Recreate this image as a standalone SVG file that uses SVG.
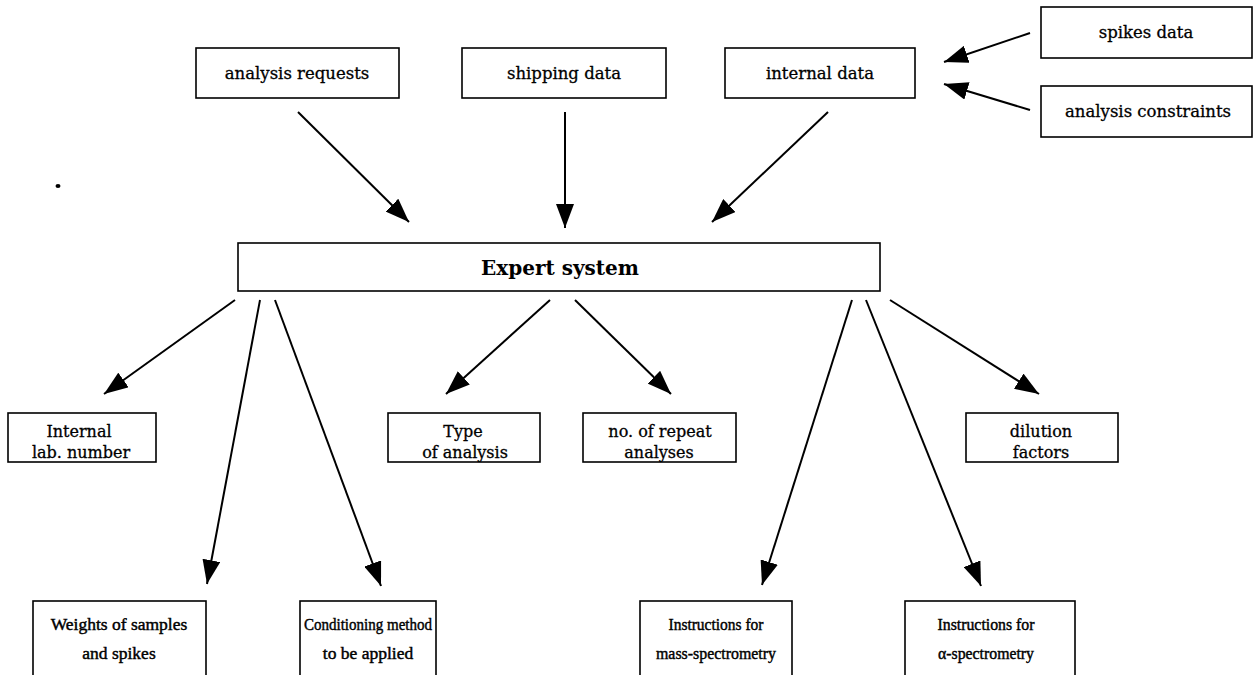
<svg xmlns="http://www.w3.org/2000/svg" width="1258" height="675" viewBox="0 0 1258 675">
  <defs>
    <marker id="arrow" viewBox="0 0 24 18" refX="24" refY="9" markerWidth="24" markerHeight="18" markerUnits="userSpaceOnUse" orient="auto">
      <path d="M0,0 L24,9 L0,18 Z" fill="#000"/>
    </marker>
    <style>
      .box { fill: #fff; stroke: #000; stroke-width: 1.6; }
      .lbl { font-family: "DejaVu Serif", "Liberation Serif", serif; font-size: 16.5px; fill: #000; stroke: #000; stroke-width: 0.3; text-anchor: middle; }
      .mid { font-family: "DejaVu Serif", "Liberation Serif", serif; font-size: 16px; fill: #000; stroke: #000; stroke-width: 0.3; text-anchor: middle; }
      .lbl2 { font-family: "Liberation Serif", "DejaVu Serif", serif; font-size: 17.5px; fill: #000; stroke: #000; stroke-width: 0.45; text-anchor: middle; }
      .main { font-family: "DejaVu Serif", "Liberation Serif", serif; font-size: 20px; font-weight: bold; fill: #000; text-anchor: middle; }
      .conn line { stroke: #000; stroke-width: 2; marker-end: url(#arrow); }
    </style>
  </defs>
  <rect width="1258" height="675" fill="#fff"/>

  <!-- inputs -->
  <g id="analysis-requests">
    <rect class="box" x="196" y="48" width="203" height="50"/>
    <text class="lbl" x="297" y="79">analysis requests</text>
  </g>
  <g id="shipping-data">
    <rect class="box" x="462" y="48" width="204" height="50"/>
    <text class="lbl" x="564" y="79">shipping data</text>
  </g>
  <g id="internal-data">
    <rect class="box" x="725" y="48" width="190" height="50"/>
    <text class="lbl" x="820" y="79">internal data</text>
  </g>
  <g id="spikes-data">
    <rect class="box" x="1041" y="7" width="211" height="51"/>
    <text class="lbl" x="1146" y="38">spikes data</text>
  </g>
  <g id="analysis-constraints">
    <rect class="box" x="1041" y="86" width="211" height="51"/>
    <text class="lbl" x="1148" y="117">analysis constraints</text>
  </g>

  <!-- central system -->
  <g id="expert-system">
    <rect class="box" x="238" y="243" width="642" height="48"/>
    <text class="main" x="560" y="275">Expert system</text>
  </g>

  <!-- outputs, middle row -->
  <g id="internal-lab-number">
    <rect class="box" x="8" y="413" width="148" height="49"/>
    <text class="mid" x="79" y="437">Internal</text>
    <text class="mid" x="81" y="458">lab. number</text>
  </g>
  <g id="type-of-analysis">
    <rect class="box" x="388" y="413" width="152" height="49"/>
    <text class="mid" x="463" y="437">Type</text>
    <text class="mid" x="465" y="458">of analysis</text>
  </g>
  <g id="repeat-analyses">
    <rect class="box" x="583" y="413" width="153" height="49"/>
    <text class="mid" x="660" y="437">no. of repeat</text>
    <text class="mid" x="659" y="458">analyses</text>
  </g>
  <g id="dilution-factors">
    <rect class="box" x="966" y="413" width="152" height="49"/>
    <text class="mid" x="1041" y="437">dilution</text>
    <text class="mid" x="1041" y="458">factors</text>
  </g>

  <!-- outputs, bottom row -->
  <g id="weights">
    <rect class="box" x="33" y="601" width="173" height="90"/>
    <text class="lbl2" x="119" y="630">Weights of samples</text>
    <text class="lbl2" x="119" y="659">and spikes</text>
  </g>
  <g id="conditioning-method">
    <rect class="box" x="300" y="601" width="136" height="90"/>
    <text class="lbl2" x="368" y="630" textLength="128" lengthAdjust="spacingAndGlyphs">Conditioning method</text>
    <text class="lbl2" x="368" y="659">to be applied</text>
  </g>
  <g id="mass-spectrometry">
    <rect class="box" x="640" y="601" width="152" height="90"/>
    <text class="lbl2" x="716" y="630" textLength="95" lengthAdjust="spacingAndGlyphs">Instructions for</text>
    <text class="lbl2" x="716" y="659" textLength="120" lengthAdjust="spacingAndGlyphs">mass-spectrometry</text>
  </g>
  <g id="alpha-spectrometry">
    <rect class="box" x="905" y="601" width="170" height="90"/>
    <text class="lbl2" x="986" y="630" textLength="97" lengthAdjust="spacingAndGlyphs">Instructions for</text>
    <text class="lbl2" x="986" y="659" textLength="96" lengthAdjust="spacingAndGlyphs">α-spectrometry</text>
  </g>

  <!-- stray mark -->
  <ellipse cx="58" cy="186" rx="2.5" ry="2" fill="#000"/>

  <!-- connectors -->
  <g id="connectors" class="conn">
    <line x1="298" y1="112" x2="409" y2="222"/>
    <line x1="565" y1="112" x2="565" y2="228"/>
    <line x1="828" y1="112" x2="712" y2="222"/>
    <line x1="1030" y1="33" x2="944" y2="62"/>
    <line x1="1030" y1="110" x2="944" y2="84"/>
    <line x1="235" y1="300" x2="104" y2="394"/>
    <line x1="260" y1="300" x2="207" y2="584"/>
    <line x1="275" y1="300" x2="381" y2="586"/>
    <line x1="550" y1="300" x2="446" y2="394"/>
    <line x1="575" y1="300" x2="671" y2="394"/>
    <line x1="852" y1="300" x2="762" y2="585"/>
    <line x1="866" y1="300" x2="981" y2="586"/>
    <line x1="890" y1="300" x2="1039" y2="394"/>
  </g>
</svg>
